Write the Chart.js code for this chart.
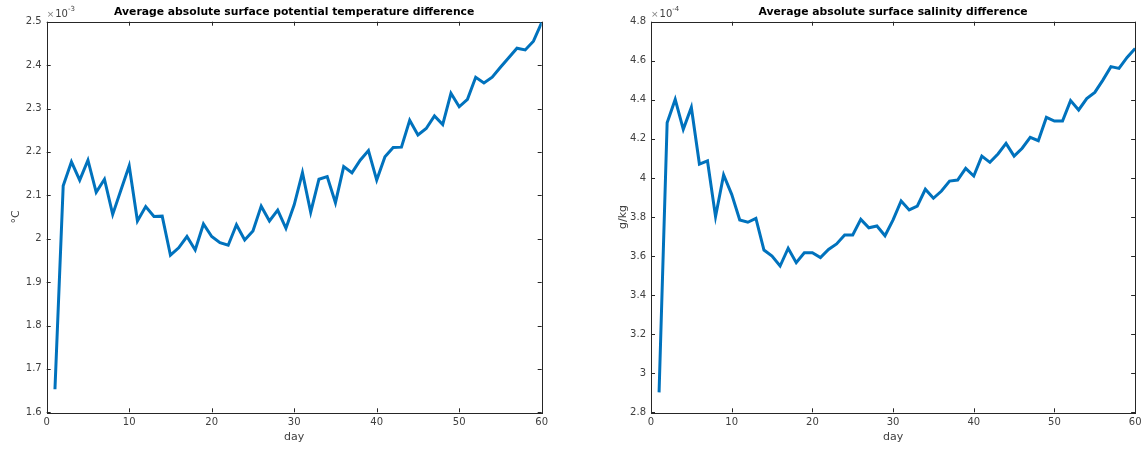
<!DOCTYPE html>
<html>
<head>
<meta charset="utf-8">
<script src="https://cdn.jsdelivr.net/npm/chart.js@4"></script>
<style>
  body { margin: 0; background: #fff; }
  .panel { position: absolute; top: 0; width: 573px; height: 449px; }
</style>
</head>
<body>
<div class="panel" style="left:0"><canvas id="tempChart" width="573" height="449"></canvas></div>
<div class="panel" style="left:573px"><canvas id="saltChart" width="573" height="449"></canvas></div>
<script>
'use strict';

// data
const days = [1, 2, 3, 4, 5, 6, 7, 8, 9, 10, 11, 12, 13, 14, 15, 16, 17, 18, 19, 20,
  21, 22, 23, 24, 25, 26, 27, 28, 29, 30, 31, 32, 33, 34, 35, 36, 37, 38, 39, 40,
  41, 42, 43, 44, 45, 46, 47, 48, 49, 50, 51, 52, 53, 54, 55, 56, 57, 58, 59, 60];

// x 1e-3 degC
const tempDiff = [1.653, 2.122, 2.177, 2.135, 2.181, 2.107, 2.137, 2.056, 2.112, 2.168,
  2.041, 2.074, 2.051, 2.052, 1.962, 1.979, 2.005, 1.974, 2.034, 2.005,
  1.991, 1.985, 2.032, 1.997, 2.018, 2.075, 2.041, 2.066, 2.024, 2.078,
  2.152, 2.061, 2.137, 2.143, 2.083, 2.166, 2.152, 2.181, 2.203, 2.135,
  2.189, 2.210, 2.211, 2.273, 2.239, 2.254, 2.283, 2.263, 2.335, 2.304,
  2.321, 2.372, 2.359, 2.372, 2.395, 2.417, 2.439, 2.435, 2.455, 2.498];

// x 1e-4 g/kg
const saltDiff = [2.902, 4.283, 4.402, 4.249, 4.361, 4.071, 4.087, 3.802, 4.015, 3.916,
  3.785, 3.773, 3.793, 3.631, 3.600, 3.549, 3.640, 3.566, 3.617, 3.617,
  3.592, 3.634, 3.662, 3.708, 3.708, 3.788, 3.745, 3.754, 3.704, 3.785,
  3.882, 3.836, 3.856, 3.942, 3.896, 3.933, 3.984, 3.989, 4.049, 4.010,
  4.112, 4.080, 4.123, 4.177, 4.112, 4.152, 4.208, 4.191, 4.310, 4.291,
  4.291, 4.396, 4.348, 4.406, 4.438, 4.501, 4.570, 4.561, 4.617, 4.663];

const dayTicks = [0, 10, 20, 30, 40, 50, 60];
const tempTicks = [1.6, 1.7, 1.8, 1.9, 2.0, 2.1, 2.2, 2.3, 2.4, 2.5];
const saltTicks = [2.8, 3.0, 3.2, 3.4, 3.6, 3.8, 4.0, 4.2, 4.4, 4.6, 4.8];

const FONT = 'DejaVu Sans, Liberation Sans, sans-serif';
const AXIS_COLOR = '#262626';
const TEXT_COLOR = '#404040';

// box, inward ticks, title and exponent label like a matlab axes
const matlabFrame = {
  id: 'matlabFrame',
  beforeDatasetsDraw(chart, args, opts) {
    const {ctx, chartArea: a, scales: {x, y}} = chart;
    ctx.save();
    ctx.strokeStyle = AXIS_COLOR;
    ctx.lineWidth = 1;
    ctx.beginPath();
    x.ticks.forEach(t => {
      const px = Math.round(x.getPixelForValue(t.value)) + 0.5;
      ctx.moveTo(px, a.bottom); ctx.lineTo(px, a.bottom - 4);
      ctx.moveTo(px, a.top); ctx.lineTo(px, a.top + 4);
    });
    y.ticks.forEach(t => {
      const py = Math.round(y.getPixelForValue(t.value)) + 0.5;
      ctx.moveTo(a.left, py); ctx.lineTo(a.left + 4, py);
      ctx.moveTo(a.right, py); ctx.lineTo(a.right - 4, py);
    });
    ctx.stroke();
    ctx.strokeRect(Math.round(a.left) + 0.5, Math.round(a.top) + 0.5,
      Math.round(a.right - a.left), Math.round(a.bottom - a.top));
    ctx.restore();
  },
  afterDraw(chart, args, opts) {
    const {ctx, chartArea: a} = chart;
    ctx.save();
    ctx.fillStyle = '#000';
    ctx.font = 'bold 10.8px ' + FONT;
    ctx.textAlign = 'center';
    ctx.textBaseline = 'middle';
    ctx.fillText(opts.title, (a.left + a.right) / 2, 12);

    // x10^n
    ctx.textAlign = 'left';
    ctx.fillStyle = '#808080';
    ctx.font = '9px ' + FONT;
    ctx.fillText('\u00d7', a.left, 15);
    ctx.fillStyle = TEXT_COLOR;
    ctx.font = '10px ' + FONT;
    const wx = ctx.measureText('\u00d7').width * 0.9;
    ctx.fillText('10', a.left + wx + 1, 14);
    const w10 = ctx.measureText('10').width;
    ctx.font = '7px ' + FONT;
    ctx.fillText(opts.exponent, a.left + wx + 1 + w10, 9);
    ctx.restore();
  }
};

function makeChart(id, values, yTicks, yMin, yMax, yTitle, title, exponent, pad, yWidth) {
  new Chart(document.getElementById(id), {
    type: 'line',
    data: {
      datasets: [{
        data: days.map((d, i) => ({x: d, y: values[i]})),
        borderColor: '#0072BD',
        borderWidth: 3,
        pointRadius: 0,
        tension: 0,
        fill: false
      }]
    },
    options: {
      responsive: false,
      animation: false,
      layout: {padding: pad},
      plugins: {
        legend: {display: false},
        tooltip: {enabled: false},
        matlabFrame: {title: title, exponent: exponent}
      },
      scales: {
        x: {
          type: 'linear',
          min: 0,
          max: 60,
          afterBuildTicks: s => { s.ticks = dayTicks.map(v => ({value: v})); },
          afterFit: s => { s.height = 36.7; },
          grid: {display: false, drawTicks: false},
          border: {display: false},
          ticks: {color: TEXT_COLOR, font: {family: FONT, size: 10}, padding: 4.5, maxRotation: 0},
          title: {display: true, text: 'day', color: TEXT_COLOR, font: {family: FONT, size: 11}, padding: {top: 0, bottom: 5.4}}
        },
        y: {
          min: yMin,
          max: yMax,
          afterBuildTicks: s => { s.ticks = yTicks.map(v => ({value: v})); },
          afterFit: s => { s.width = yWidth; },
          grid: {display: false, drawTicks: false},
          border: {display: false},
          ticks: {
            color: TEXT_COLOR,
            font: {family: FONT, size: 10},
            padding: 5,
            callback: v => String(Number(v.toFixed(1)))
          },
          title: {display: true, text: yTitle, color: TEXT_COLOR, font: {family: FONT, size: 11}, padding: {top: 10, bottom: 0}}
        }
      }
    },
    plugins: [matlabFrame]
  });
}

makeChart('tempChart', tempDiff, tempTicks, 1.6, 2.5, '\u00b0C',
  'Average absolute surface potential temperature difference', '-3',
  {left: 0, right: 31.3, top: 21.7, bottom: 0}, 46.7);

makeChart('saltChart', saltDiff, saltTicks, 2.8, 4.8, 'g/kg',
  'Average absolute surface salinity difference', '-4',
  {left: 33.7, right: 9.3, top: 21.7, bottom: 0}, 44.3);
</script>
</body>
</html>
